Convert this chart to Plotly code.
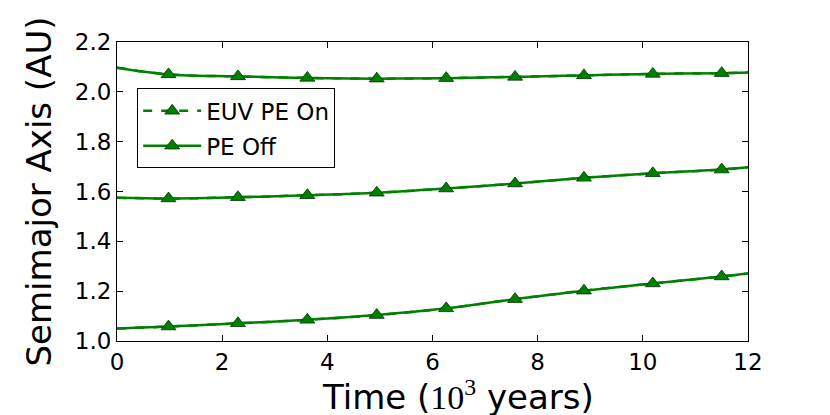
import plotly.graph_objects as go

# Time (10^3 years) at which samples / markers sit
t_line = [0.0, 0.98, 2.3, 3.62, 4.94, 6.26, 7.57, 8.88, 10.19, 11.5, 12.0]
t_mark = [0.98, 2.3, 3.62, 4.94, 6.26, 7.57, 8.88, 10.19, 11.5]

# Semimajor axis (AU) for the three planets
a_inner = [1.050, 1.058, 1.071, 1.085, 1.104, 1.131, 1.168, 1.202, 1.231, 1.259, 1.271]
a_middle = [1.575, 1.572, 1.577, 1.585, 1.595, 1.612, 1.632, 1.655, 1.673, 1.688, 1.697]
a_outer = [2.097, 2.070, 2.062, 2.056, 2.053, 2.055, 2.060, 2.066, 2.072, 2.075, 2.078]

x_ticks = [0, 2, 4, 6, 8, 10, 12]
y_ticks = [1.0, 1.2, 1.4, 1.6, 1.8, 2.0, 2.2]

GREEN = '#008000'
MARKER = dict(symbol='triangle-up', size=13, color=GREEN, line=dict(color='#003000', width=0.8))
fig = go.Figure()


def add_planet(vals):
    marks = vals[1:-1]
    # PE off: solid line
    fig.add_trace(go.Scatter(x=t_line, y=vals, mode='lines', line=dict(color=GREEN, width=2.5, shape='spline'),
                             showlegend=False, hoverinfo='skip'))
    # EUV PE on: dashed line on top
    fig.add_trace(go.Scatter(x=t_line, y=vals, mode='lines', line=dict(color=GREEN, width=2.5, dash='dash', shape='spline'),
                             showlegend=False, hoverinfo='skip'))
    fig.add_trace(go.Scatter(x=t_mark, y=marks, mode='markers', marker=MARKER, showlegend=False))


add_planet(a_inner)
add_planet(a_middle)
add_planet(a_outer)

# legend entries
fig.add_trace(go.Scatter(x=[None], y=[None], mode='lines+markers', name='EUV PE On', legendgroup='on',
                         line=dict(color=GREEN, width=2.5, dash='dash'), marker=MARKER))
fig.add_trace(go.Scatter(x=[None], y=[None], mode='lines+markers', name='PE Off', legendgroup='off',
                         line=dict(color=GREEN, width=2.5), marker=MARKER))

axis_style = dict(showline=True, linecolor='black', linewidth=1, mirror='ticks', ticks='inside',
                  ticklen=6, tickcolor='black', showgrid=False, zeroline=False,
                  tickfont=dict(size=23, color='black'))

fig.update_layout(
    width=830, height=415,
    margin=dict(l=109, r=90, t=34, b=82),
    paper_bgcolor='white', plot_bgcolor='white',
    font=dict(family='DejaVu Sans', color='black'),
    xaxis=dict(range=[0, 12], tickvals=x_ticks, ticktext=[str(v) for v in x_ticks], **axis_style),
    yaxis=dict(range=[1.0, 2.2], tickvals=y_ticks, ticktext=['%.1f' % v for v in y_ticks],
               title=dict(text='Semimajor Axis (AU)', font=dict(size=34), standoff=12), **axis_style),
    legend=dict(x=0.032, y=0.845, xanchor='left', yanchor='top', bgcolor='white',
                bordercolor='black', borderwidth=1, font=dict(size=23), itemwidth=58,
                tracegroupgap=2),
)

# x-axis title as an annotation so it can sit where the original one does
fig.add_annotation(text='Time (<span style="font-family:Liberation Serif">10<sup>3</sup></span> years)',
                   xref='paper', yref='paper', x=0.54, y=-0.181, xanchor='center', yanchor='middle',
                   showarrow=False, font=dict(size=34, color='black'))

fig.write_html("out.html")
